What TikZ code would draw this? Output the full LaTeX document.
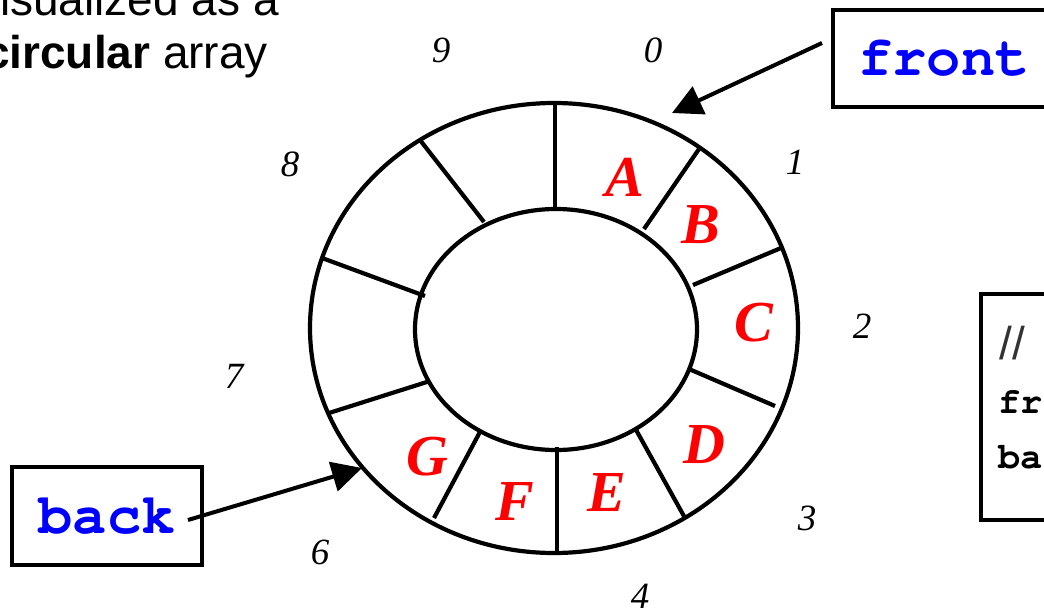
\documentclass[tikz,border=0pt]{standalone}
\usepackage{fontspec}
\setmainfont{Liberation Serif}
\setsansfont{Liberation Sans}
\setmonofont{TeX Gyre Cursor}
\usetikzlibrary{arrows.meta}
\begin{document}
\begin{tikzpicture}[x=1pt,y=-1pt,
  ring/.style={line width=4.2pt},
  spoke/.style={line width=4.2pt},
  idx/.style={font=\fontsize{37}{40}\selectfont\itshape, inner sep=0pt},
  elem/.style={font=\fontsize{58}{60}\selectfont\bfseries\itshape, text=red, inner sep=0pt},
  ptrbox/.style={draw, line width=3.5pt, font=\fontsize{57}{60}\selectfont\ttfamily\bfseries, text=blue, inner sep=0pt},
  codetxt/.style={font=\fontsize{37}{40}\selectfont\ttfamily\bfseries, inner sep=0pt, anchor=base west},
  captxt/.style={font=\fontsize{46}{50}\selectfont\sffamily, inner sep=0pt, anchor=base},
  arr/.style={line width=4pt, -{Triangle[length=30pt,width=30pt]}}]
\useasboundingbox (0,0) rectangle (1044,608);
\clip (0,0) rectangle (1044,608);

% caption (cut at the edge)
\node[captxt] (cap1) at (128,15) {visualized as a};
\node[captxt] (cap2) at (126,68) {\textbf{circular} array};

% ring
\draw[ring] (554,328) ellipse [x radius=244, y radius=225];
\draw[ring] (556,329.5) ellipse [x radius=141, y radius=120.5];

% spokes
\draw[spoke] (555,103) -- (555,211);
\draw[spoke] (699,149) -- (644,229);
\draw[spoke] (781,248) -- (693,285);
\draw[spoke] (775,406) -- (689,369);
\draw[spoke] (685,518) -- (635,428);
\draw[spoke] (557,551) -- (557,447);
\draw[spoke] (434,518) -- (481,430);
\draw[spoke] (329,413) -- (430,381);
\draw[spoke] (322,258) -- (425,296);
\draw[spoke] (420,140) -- (484,222);

% elements
\node[elem] (eA) at (625,177) {A};
\node[elem] (eB) at (701,225) {B};
\node[elem] (eC) at (754,323) {C};
\node[elem] (eD) at (704,445) {D};
\node[elem] (eE) at (607,493) {E};
\node[elem] (eF) at (515,502) {F};
\node[elem] (eG) at (427,457) {G};

% indices
\node[idx] (i0) at (653,50) {0};
\node[idx] (i9) at (441,50) {9};
\node[idx] (i1) at (795,162) {1};
\node[idx] (i2) at (862,326) {2};
\node[idx] (i3) at (807,518) {3};
\node[idx] (i4) at (640,596) {4};
\node[idx] (i6) at (320,552) {6};
\node[idx] (i7) at (234,376) {7};
\node[idx] (i8) at (290,164) {8};

% pointer boxes
\node[ptrbox, minimum width=222, minimum height=97] (front) at (944,58.5) {front};
\node[ptrbox, minimum width=190, minimum height=98] (back) at (107,516) {back};

% code box (cut at the edge)
\node[draw, line width=3.5pt, anchor=north west, minimum width=130, minimum height=226, inner sep=0pt] (code) at (979,292) {};
\node[font=\fontsize{46}{50}\selectfont\sffamily, text=black!80, inner sep=0pt, anchor=base west] (c1) at (999,359) {//};
\node[codetxt] (c2) at (998,413) {fr};
\node[codetxt] (c3) at (998,468) {ba};

% arrows
\coordinate (fs) at (822,43);
\coordinate (ft) at (672,113);
\coordinate (bs) at (188,520);
\coordinate (bt) at (362,468);
\draw[arr] (fs) -- (ft);
\draw[arr] (bs) -- (bt);
\end{tikzpicture}
\end{document}
